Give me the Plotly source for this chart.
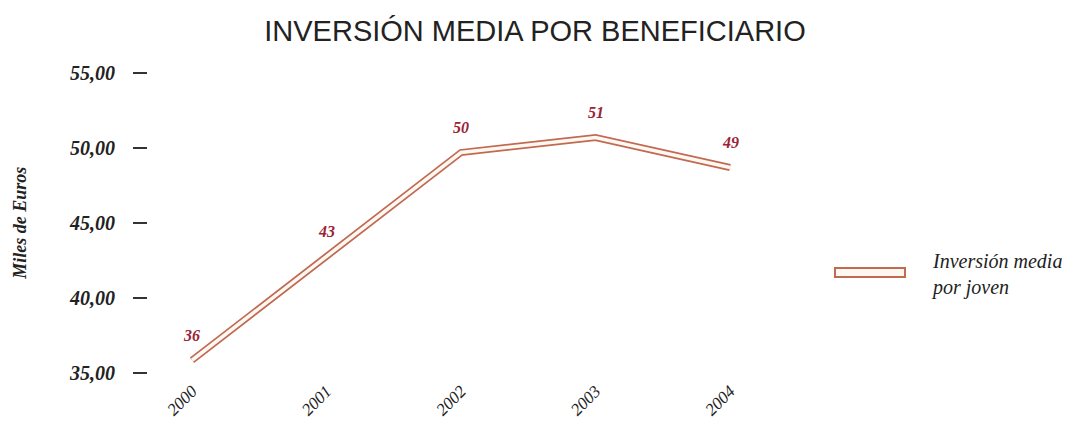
import plotly.graph_objects as go

years = ["2000", "2001", "2002", "2003", "2004"]
values = [35.85, 42.8, 49.7, 50.7, 48.7]
labels = ["36", "43", "50", "51", "49"]
y_ticks = [35, 40, 45, 50, 55]
y_tick_text = ["35,00", "40,00", "45,00", "50,00", "55,00"]

title_text = "INVERSIÓN MEDIA POR BENEFICIARIO"
y_title = "Miles de Euros"
series_name = "Inversión media<br>por joven"

outer_color = "#c06a52"
inner_color = "#fff8f2"
label_color = "#9b2335"
serif = "Liberation Serif"

fig = go.Figure()
fig.add_trace(go.Scatter(x=years, y=values, mode="lines",
                         line=dict(color=outer_color, width=7),
                         showlegend=False, hoverinfo="skip"))
fig.add_trace(go.Scatter(x=years, y=values, mode="lines",
                         line=dict(color=inner_color, width=3.5),
                         showlegend=False, hoverinfo="skip"))

for i, (yv, t) in enumerate(zip(values, labels)):
    fig.add_annotation(x=i, y=yv, text=t, showarrow=False, yshift=25,
                       font=dict(family=serif, size=16, color=label_color,
                                 style="italic", weight="bold"))

# y-axis title
fig.add_annotation(xref="paper", yref="paper", x=-0.205, y=0.5,
                   xanchor="center", text=y_title, showarrow=False,
                   textangle=-90,
                   font=dict(family=serif, size=18, color="#222",
                             style="italic", weight="bold"))

# legend (manual)
fig.add_shape(type="rect", xref="paper", yref="paper",
              x0=1.0974, x1=1.2093, y0=0.32, y1=0.35,
              line=dict(color=outer_color, width=2), fillcolor=inner_color)
fig.add_annotation(xref="paper", yref="paper", x=1.247, y=0.327,
                   xanchor="left", yanchor="middle", align="left",
                   text=series_name, showarrow=False,
                   font=dict(family=serif, size=20, color="#222",
                             style="italic"))

fig.update_layout(
    width=1070, height=424,
    margin=dict(l=148, r=296, t=73, b=51),
    paper_bgcolor="white", plot_bgcolor="white",
    showlegend=False,
    title=dict(text=title_text, x=0.5, xref="container", y=1 - 31 / 424,
               yref="container", xanchor="center", yanchor="middle",
               font=dict(family="Liberation Sans", size=29, color="#222")),
    xaxis=dict(type="category", range=[-0.327, 4.327], showgrid=False,
               zeroline=False, showline=False, ticks="", automargin=False,
               tickangle=-45, ticklabelstandoff=4,
               tickfont=dict(family=serif, size=17, color="#222",
                             style="italic")),
    yaxis=dict(range=[35, 55], tickvals=y_ticks, ticktext=y_tick_text,
               showgrid=False, zeroline=False, showline=False,
               automargin=False,
               ticks="outside", ticklen=14, tickwidth=1.5, tickcolor="#333",
               ticklabelstandoff=14,
               tickfont=dict(family=serif, size=20, color="#222",
                             style="italic", weight="bold")),
)

fig.write_html("out.html")
